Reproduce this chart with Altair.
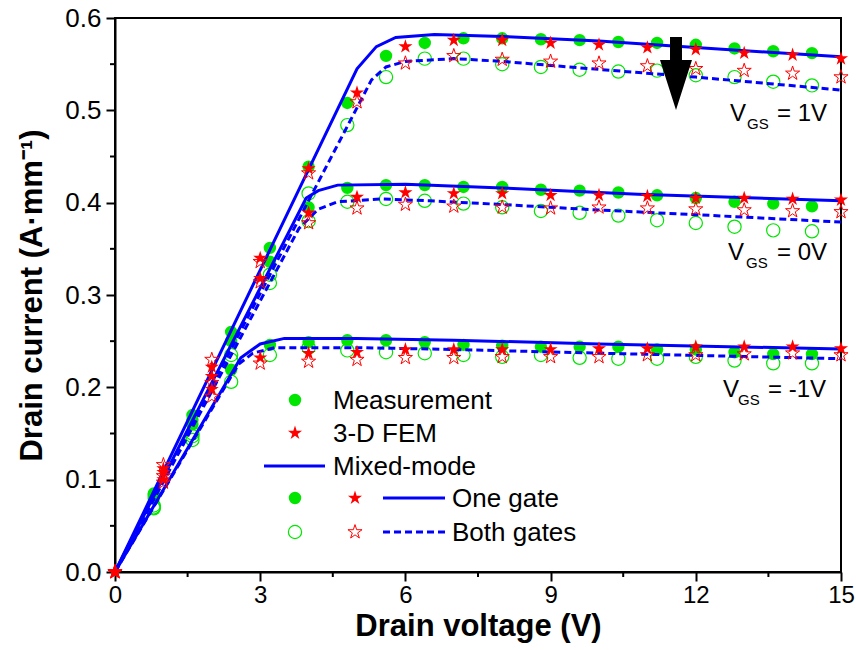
import altair as alt
import pandas as pd

# ---------------- data ----------------
meas_x = [0.8, 1.6, 2.4, 3.2, 4.0, 4.8, 5.6, 6.4, 7.2, 8.0, 8.8, 9.6, 10.4, 11.2, 12.0, 12.8, 13.6, 14.4]
meas_one_p1 = [0.085, 0.170, 0.260, 0.351, 0.439, 0.508, 0.559, 0.573, 0.578, 0.578, 0.577, 0.576, 0.574, 0.573, 0.571, 0.567, 0.564, 0.562]
meas_both_p1 = [0.072, 0.150, 0.235, 0.322, 0.410, 0.484, 0.536, 0.556, 0.556, 0.550, 0.547, 0.544, 0.542, 0.543, 0.538, 0.536, 0.531, 0.527]
meas_one_0 = [0.083, 0.165, 0.250, 0.336, 0.395, 0.416, 0.419, 0.419, 0.417, 0.417, 0.414, 0.413, 0.411, 0.408, 0.405, 0.401, 0.399, 0.396]
meas_both_0 = [0.070, 0.147, 0.230, 0.313, 0.380, 0.401, 0.404, 0.402, 0.399, 0.395, 0.391, 0.389, 0.386, 0.381, 0.378, 0.374, 0.370, 0.369]
meas_one_m1 = [0.080, 0.160, 0.219, 0.246, 0.249, 0.251, 0.251, 0.249, 0.246, 0.245, 0.244, 0.244, 0.244, 0.241, 0.241, 0.238, 0.236, 0.236]
meas_both_m1 = [0.069, 0.143, 0.206, 0.235, 0.243, 0.240, 0.238, 0.237, 0.235, 0.233, 0.235, 0.232, 0.231, 0.231, 0.233, 0.229, 0.226, 0.226]

fem_x = [0, 1, 2, 3, 4, 5, 6, 7, 8, 9, 10, 11, 12, 13, 14, 15]
fem_one_p1 = [0, 0.112, 0.222, 0.340, 0.437, 0.519, 0.569, 0.576, 0.576, 0.573, 0.571, 0.568, 0.566, 0.562, 0.560, 0.556]
fem_both_p1 = [0, 0.116, 0.230, 0.336, 0.432, 0.509, 0.551, 0.559, 0.555, 0.553, 0.551, 0.548, 0.545, 0.543, 0.540, 0.536]
fem_one_0 = [0, 0.108, 0.212, 0.318, 0.389, 0.406, 0.411, 0.410, 0.410, 0.408, 0.408, 0.407, 0.405, 0.405, 0.404, 0.403]
fem_both_0 = [0, 0.104, 0.205, 0.314, 0.378, 0.394, 0.398, 0.396, 0.395, 0.394, 0.395, 0.394, 0.393, 0.392, 0.391, 0.390]
fem_one_m1 = [0, 0.100, 0.198, 0.232, 0.237, 0.238, 0.241, 0.241, 0.241, 0.241, 0.242, 0.242, 0.244, 0.244, 0.244, 0.242]
fem_both_m1 = [0, 0.097, 0.190, 0.226, 0.228, 0.230, 0.232, 0.232, 0.233, 0.233, 0.233, 0.235, 0.235, 0.236, 0.237, 0.235]

# mixed-mode simulation curves (knots)
mm_one_p1_x = [0, 5.0, 5.4, 5.8, 6.6, 8, 10, 12, 15]
mm_one_p1_y = [0, 0.545, 0.569, 0.579, 0.582, 0.580, 0.575, 0.568, 0.558]
mm_both_p1_x = [0, 5.3, 5.6, 6.0, 7.0, 8.0, 9.6, 12, 15]
mm_both_p1_y = [0, 0.533, 0.547, 0.553, 0.556, 0.553, 0.546, 0.536, 0.522]
mm_one_0_x = [0, 3.95, 4.2, 4.6, 6, 8, 10.8, 15]
mm_one_0_y = [0, 0.405, 0.413, 0.419, 0.420, 0.416, 0.409, 0.402]
mm_both_0_x = [0, 3.8, 4.2, 4.6, 5.5, 6.5, 8, 10, 12, 15]
mm_both_0_y = [0, 0.372, 0.393, 0.401, 0.404, 0.402, 0.398, 0.392, 0.387, 0.379]
mm_one_m1_x = [0, 2.6, 3.0, 3.5, 5, 7, 10, 15]
mm_one_m1_y = [0, 0.232, 0.247, 0.253, 0.253, 0.251, 0.247, 0.2415]
mm_both_m1_x = [0, 2.55, 2.85, 3.3, 5, 7, 10, 15]
mm_both_m1_y = [0, 0.225, 0.237, 0.243, 0.243, 0.241, 0.237, 0.231]

x_ticks = [0, 3, 6, 9, 12, 15]
x_minor = [1.5, 4.5, 7.5, 10.5, 13.5]
y_ticks = [0.0, 0.1, 0.2, 0.3, 0.4, 0.5, 0.6]
y_minor = [0.05, 0.15, 0.25, 0.35, 0.45, 0.55]

legend_labels = ["Measurement", "3-D FEM", "Mixed-mode", "One gate", "Both gates"]

# ---------------- tables ----------------
def series(xs, ys, vgs):
    return pd.DataFrame({"x": xs, "y": ys, "vgs": vgs})

meas_one = pd.concat([series(meas_x, meas_one_p1, "1"), series(meas_x, meas_one_0, "0"), series(meas_x, meas_one_m1, "-1")])
meas_both = pd.concat([series(meas_x, meas_both_p1, "1"), series(meas_x, meas_both_0, "0"), series(meas_x, meas_both_m1, "-1")])
fem_one = pd.concat([series(fem_x, fem_one_p1, "1"), series(fem_x, fem_one_0, "0"), series(fem_x, fem_one_m1, "-1")])
fem_both = pd.concat([series(fem_x, fem_both_p1, "1"), series(fem_x, fem_both_0, "0"), series(fem_x, fem_both_m1, "-1")])
mm_one = pd.concat([series(mm_one_p1_x, mm_one_p1_y, "1"), series(mm_one_0_x, mm_one_0_y, "0"), series(mm_one_m1_x, mm_one_m1_y, "-1")])
mm_both = pd.concat([series(mm_both_p1_x, mm_both_p1_y, "1"), series(mm_both_0_x, mm_both_0_y, "0"), series(mm_both_m1_x, mm_both_m1_y, "-1")])

FONT = "Liberation Sans"
GREEN = "#00e600"
RED = "#ff0000"
BLUE = "#0000ff"
STAR = "M0,-1L0.2245,-0.309L0.951,-0.309L0.3633,0.118L0.5878,0.809L0,0.382L-0.5878,0.809L-0.3633,0.118L-0.951,-0.309L-0.2245,-0.309Z"
ARROW = "M-0.164,-1L0.164,-1L0.164,-0.37L0.438,-0.37L0,1L-0.438,-0.37L-0.164,-0.37Z"

W, H = 726, 554

X = alt.X("x:Q", scale=alt.Scale(domain=[0, 15], nice=False, zero=False),
          axis=alt.Axis(values=x_ticks, title="Drain voltage (V)", format="d", labelFlush=False))
Y = alt.Y("y:Q", scale=alt.Scale(domain=[0, 0.6], nice=False),
          axis=alt.Axis(values=y_ticks, title="Drain current (A·mm⁻¹)", format=".1f", labelFlush=False))

lay = []
lay.append(alt.Chart(meas_one).mark_point(shape="circle", filled=True, size=154, color=GREEN, opacity=1)
           .encode(x=X, y=Y))
lay.append(alt.Chart(meas_both).mark_point(shape="circle", filled=False, size=175, color=GREEN, strokeWidth=1.2, opacity=1)
           .encode(x=X, y=Y))
lay.append(alt.Chart(mm_one).mark_line(color=BLUE, strokeWidth=3)
           .encode(x=X, y=Y, detail="vgs:N", order="x:Q"))
lay.append(alt.Chart(mm_both).mark_line(color=BLUE, strokeWidth=3, strokeDash=[7, 4])
           .encode(x=X, y=Y, detail="vgs:N", order="x:Q"))
lay.append(alt.Chart(fem_one).mark_point(shape=STAR, filled=True, size=220, color=RED, opacity=1)
           .encode(x=X, y=Y))
lay.append(alt.Chart(fem_both).mark_point(shape=STAR, filled=False, size=220, color=RED, strokeWidth=1, opacity=1)
           .encode(x=X, y=Y))

# minor ticks
lay.append(alt.Chart(pd.DataFrame({"x": x_minor})).mark_rule(color="black", strokeWidth=2)
           .encode(x=X, y=alt.value(H), y2=alt.value(H + 5)))
lay.append(alt.Chart(pd.DataFrame({"y": y_minor})).mark_rule(color="black", strokeWidth=2)
           .encode(y=Y, x=alt.value(0), x2=alt.value(-5)))

one = pd.DataFrame({"a": [0]})

def txt(s, x, y, size=26, baseline="middle", **kw):
    return alt.Chart(one).mark_text(text=s, align="left", baseline=baseline, fontSize=size, font=FONT, color="black", **kw).encode(
        x=alt.value(x), y=alt.value(y))

def sym(shape, x, y, color, filled, size, sw=1.2):
    return alt.Chart(one).mark_point(shape=shape, filled=filled, size=size, color=color, opacity=1, strokeWidth=sw).encode(
        x=alt.value(x), y=alt.value(y))

def seg(x1, x2, y, dash=None):
    kw = {"strokeDash": dash} if dash else {}
    return alt.Chart(one).mark_rule(color=BLUE, strokeWidth=3, **kw).encode(
        x=alt.value(x1), x2=alt.value(x2), y=alt.value(y))

# legend
lay += [
    sym("circle", 180, 382, GREEN, True, 154),
    txt(legend_labels[0], 218, 383),
    sym(STAR, 180, 415, RED, True, 220),
    txt(legend_labels[1], 218, 416),
    seg(149, 210, 448),
    txt(legend_labels[2], 218, 449),
    sym("circle", 180, 480, GREEN, True, 154),
    sym(STAR, 240, 480, RED, True, 220),
    seg(268, 330, 480),
    txt(legend_labels[3], 337, 481),
    sym("circle", 180, 514, GREEN, False, 175),
    sym(STAR, 240, 514, RED, False, 220, 1),
    seg(268, 330, 514, [7, 4]),
    txt(legend_labels[4], 337, 515),
]

# V_GS annotations
for vx, vy, gx, ex, val in [(615, 103, 632, 662, "= 1V"), (613, 242, 631, 662, "= 0V"), (608, 379, 623, 653, "= -1V")]:
    lay += [
        txt("V", vx, vy, 24, baseline="alphabetic"),
        txt("GS", gx, vy + 8, 15, baseline="alphabetic"),
        txt(val, ex, vy, 24, baseline="alphabetic"),
    ]

# arrow
lay.append(alt.Chart(one).mark_point(shape=ARROW, filled=True, size=5329, color="black", opacity=1, strokeWidth=0)
           .encode(x=alt.value(561), y=alt.value(55.5)))

chart = alt.layer(*lay).properties(
    width=W, height=H,
    autosize=alt.AutoSizeParams(type="none"),
    padding={"left": 115, "top": 18, "right": 15, "bottom": 78},
).configure_view(
    stroke="black", strokeWidth=2
).configure_axis(
    domainColor="black", domainWidth=2, tickColor="black", tickWidth=2, tickSize=9,
    labelFont=FONT, labelFontSize=24, labelColor="black", labelPadding=2,
    titleFont=FONT, titleFontSize=31, titleFontWeight="bold", titleColor="black",
    grid=False,
).configure_axisY(titlePadding=16, labelPadding=5, labelFontSize=26).configure_axisX(titlePadding=4)

chart.save("out.html", embed_options={"renderer": "svg", "actions": False})
